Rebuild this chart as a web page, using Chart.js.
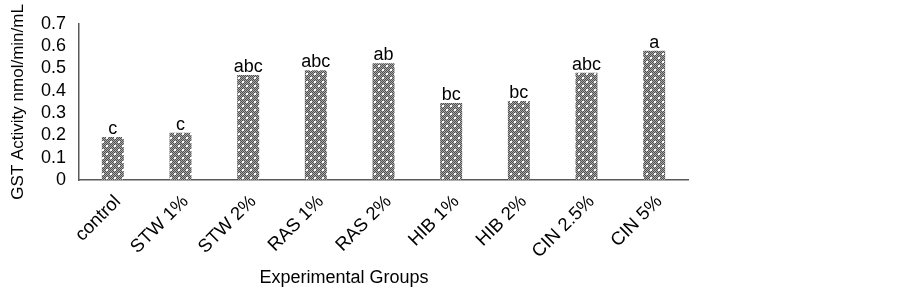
<!DOCTYPE html>
<html>
<head>
<meta charset="utf-8">
<script src="https://cdn.jsdelivr.net/npm/chart.js@4.4.0/dist/chart.umd.min.js"></script>
<style>
  html, body { margin: 0; padding: 0; background: #fff; }
  #wrap { width: 903px; height: 295px; }
</style>
</head>
<body>
<div id="wrap"><canvas id="gstChart" width="903" height="295"></canvas></div>
<script>
// groups and GST activity
var groups = ['control', 'STW 1%', 'STW 2%', 'RAS 1%', 'RAS 2%', 'HIB 1%', 'HIB 2%', 'CIN 2.5%', 'CIN 5%'];
var gstValues = [0.193, 0.212, 0.471, 0.492, 0.523, 0.345, 0.354, 0.481, 0.579];
var sigLetters = ['c', 'c', 'abc', 'abc', 'ab', 'bc', 'bc', 'abc', 'a'];

// dotted grey fill like the original bars
function makePattern() {
  var c = document.createElement('canvas');
  c.width = 8;
  c.height = 8;
  var g = c.getContext('2d');
  for (var y = 0; y < 8; y++) {
    for (var x = 0; x < 8; x++) {
      g.fillStyle = (x + y) % 2 === 0 ? '#505050' : '#a8a8a8';
      g.fillRect(x, y, 1, 1);
    }
  }
  g.fillStyle = '#ffffff';
  g.fillRect(2, 1, 2, 2);
  g.fillRect(6, 5, 2, 2);
  return document.getElementById('gstChart').getContext('2d').createPattern(c, 'repeat');
}

// letters above bars + x axis title
var labelPlugin = {
  id: 'labelPlugin',
  afterDatasetsDraw: function (chart) {
    var ctx = chart.ctx;
    var meta = chart.getDatasetMeta(0);
    ctx.save();
    ctx.font = '18px "Liberation Sans", Arial, sans-serif';
    ctx.fillStyle = '#000';
    ctx.textAlign = 'center';
    ctx.textBaseline = 'bottom';
    meta.data.forEach(function (bar, i) {
      ctx.fillText(sigLetters[i], bar.x, bar.y + 1);
    });
    ctx.textBaseline = 'middle';
    ctx.fillText('Experimental Groups', 344, 278);
    ctx.restore();
  }
};

var ctx = document.getElementById('gstChart').getContext('2d');
var gstChart = new Chart(ctx, {
  type: 'bar',
  data: {
    labels: groups,
    datasets: [
      {
        label: 'GST',
        data: gstValues,
        backgroundColor: makePattern(),
        borderWidth: 0,
        barPercentage: 0.325,
        categoryPercentage: 1,
      },
    ],
  },
  options: {
    responsive: false,
    animation: false,
    layout: {
      padding: { left: 0, right: 215, top: 14, bottom: 0 },
    },
    plugins: {
      legend: { display: false },
      tooltip: { enabled: false },
    },
    scales: {
      x: {
        grid: { display: false, drawTicks: false },
        border: { display: true, color: '#595959', width: 1.5 },
        ticks: {
          color: '#000',
          maxRotation: 45,
          minRotation: 45,
          padding: 11,
          labelOffset: 5,
          autoSkip: false,
          font: { family: '"Liberation Sans", Arial, sans-serif', size: 18.5 },
        },
        afterFit: function (scale) {
          scale.height = 115;
        },
      },
      y: {
        min: 0,
        max: 0.7,
        grid: { display: false, drawTicks: false },
        border: { display: true, color: '#595959', width: 1.5 },
        ticks: {
          stepSize: 0.1,
          autoSkip: false,
          color: '#000',
          padding: 13,
          font: { family: '"Liberation Sans", Arial, sans-serif', size: 18 },
          callback: function (v) {
            return v === 0 ? '0' : v.toFixed(1);
          },
        },
        title: {
          display: true,
          text: 'GST Activity nmol/min/mL',
          color: '#000',
          padding: { top: 8, bottom: 0 },
          font: { family: '"Liberation Sans", Arial, sans-serif', size: 17 },
        },
        afterFit: function (scale) {
          scale.width = 79;
        },
      },
    },
  },
  plugins: [labelPlugin],
});
</script>
</body>
</html>
